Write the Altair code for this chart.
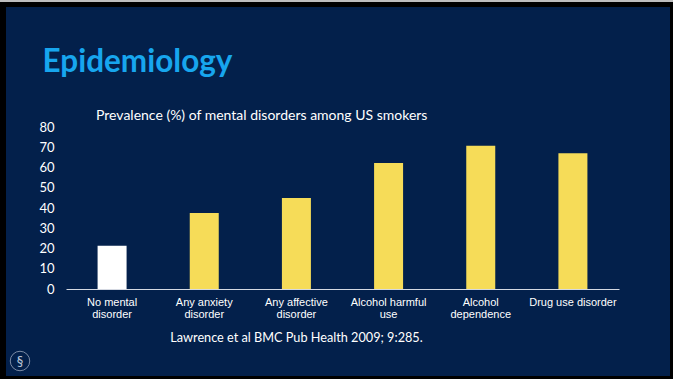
import altair as alt
import pandas as pd

categories = ["No mental disorder", "Any anxiety disorder", "Any affective disorder",
              "Alcohol harmful use", "Alcohol dependence", "Drug use disorder"]
label_lines = [["No mental", "disorder"], ["Any anxiety", "disorder"], ["Any affective", "disorder"],
               ["Alcohol harmful", "use"], ["Alcohol", "dependence"], ["Drug use disorder"]]
prevalence = [21.3, 37.5, 45, 62.2, 70.8, 67]
y_ticks = [0, 10, 20, 30, 40, 50, 60, 70, 80]

slide_title = "Epidemiology"
chart_title = "Prevalence (%) of mental disorders among US smokers"
citation = "Lawrence et al BMC Pub Health 2009; 9:285."

NAVY = "#03204B"
YELLOW = "#F6DC58"
BLUE = "#17A6EE"

PL, PT = 66, 127
W, H = 553, 162

df = pd.DataFrame({"category": categories, "value": prevalence})

# labelExpr mapping category -> multi-line label
mapping = "{" + ",".join(
    "'" + c + "':[" + ",".join("'" + s + "'" for s in lines) + "]"
    for c, lines in zip(categories, label_lines)) + "}"
label_expr = mapping + "[datum.label]"

one = pd.DataFrame({"t": [0]})

# slide frame: black border + navy panel
border = alt.Chart(one).mark_rect(color=NAVY).encode(
    x=alt.value(6 - PL), x2=alt.value(670 - PL),
    y=alt.value(7 - PT), y2=alt.value(376 - PT))
topstrip = alt.Chart(one).mark_rect(color="#BEBEBE").encode(
    x=alt.value(0 - PL), x2=alt.value(673 - PL),
    y=alt.value(0 - PT), y2=alt.value(2 - PT))

bars = alt.Chart(df).mark_bar(size=29).encode(
    x=alt.X("category:N", sort=categories,
            scale=alt.Scale(paddingInner=0.686, paddingOuter=0.343),
            axis=alt.Axis(title=None, labelAngle=0, ticks=False, domainColor="#D5D9E2",
                          domainWidth=1, labelColor="white", labelFont="Liberation Sans",
                          labelFontSize=11, labelLineHeight=12.3, labelPadding=7,
                          labelExpr=label_expr, labelLimit=200, zindex=1)),
    y=alt.Y("value:Q", scale=alt.Scale(domain=[0, 80], nice=False),
            axis=alt.Axis(title=None, values=y_ticks, grid=False, domain=False, ticks=False,
                          labelColor="white", labelFont="Lato", labelFontSize=13,
                          labelPadding=12, zindex=1)),
    color=alt.condition(alt.datum.category == categories[0], alt.value("white"), alt.value(YELLOW)),
)

title_df = pd.DataFrame({"t": [slide_title]})
sub_df = pd.DataFrame({"t": [chart_title]})
cit_df = pd.DataFrame({"t": [citation]})

title = alt.Chart(title_df).mark_text(font="Lato", fontWeight="bold", fontSize=31.5, color=BLUE,
                                      align="left", baseline="alphabetic").encode(
    x=alt.value(42.5 - PL), y=alt.value(72 - PT), text="t:N")
subtitle = alt.Chart(sub_df).mark_text(font="Lato", fontSize=14, color="white",
                                       align="left", baseline="middle").encode(
    x=alt.value(96 - PL), y=alt.value(116 - PT), text="t:N")
cite = alt.Chart(cit_df).mark_text(font="Lato", fontSize=12.7, color="white",
                                   align="center", baseline="middle").encode(
    x=alt.value(296.5 - PL), y=alt.value(338 - PT), text="t:N")
logo = alt.Chart(one).mark_point(shape="circle", size=380, color="#9AA6BC", strokeWidth=1,
                                 filled=False, opacity=0.8).encode(
    x=alt.value(20 - PL), y=alt.value(361 - PT))
logo_txt = alt.Chart(pd.DataFrame({"t": ["§"]})).mark_text(font="DejaVu Sans", fontSize=13,
                                                           color="#B8C2D4").encode(
    x=alt.value(20 - PL), y=alt.value(361 - PT), text="t:N")

chart = alt.layer(topstrip, border, bars, title, subtitle, cite, logo, logo_txt).properties(
    width=W, height=H,
    padding={"left": PL, "top": PT, "right": 673 - PL - W, "bottom": 379 - PT - H},
    autosize=alt.AutoSizeParams(type="none"),
    background="#000000",
).configure_view(stroke=None)

chart.save("out.html", embed_options={"renderer": "svg", "actions": False})
